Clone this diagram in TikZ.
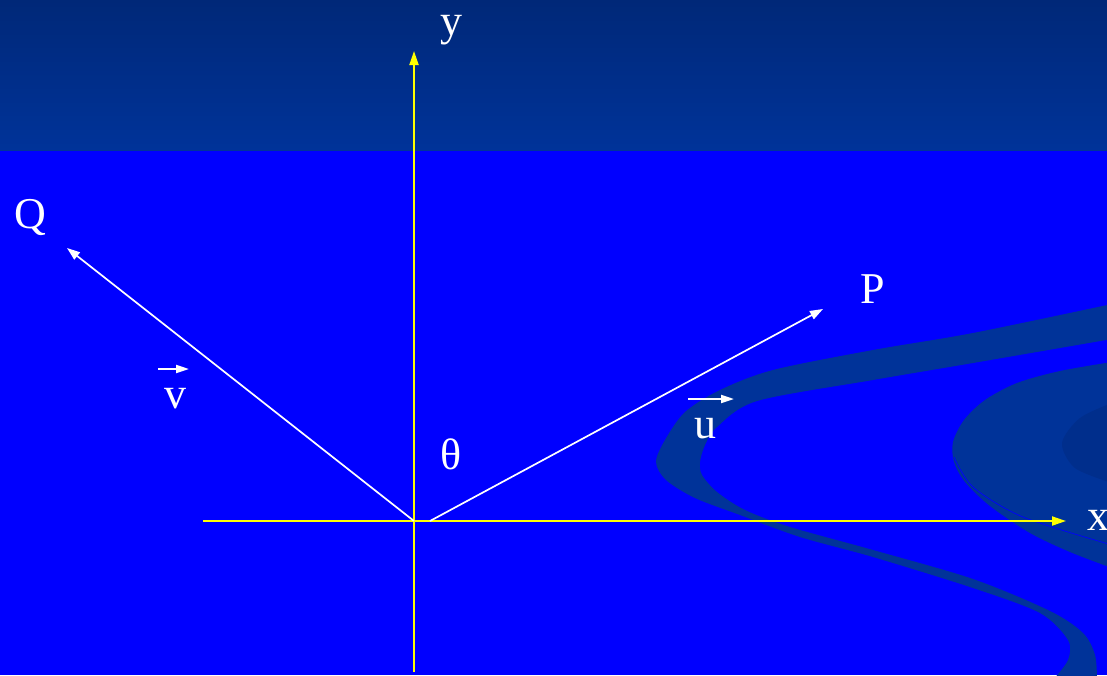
\documentclass[tikz,border=0pt]{standalone}
\usepackage{fontspec}
\setmainfont{Liberation Serif}
\usetikzlibrary{arrows.meta}
\definecolor{bandtop}{RGB}{0,40,120}
\definecolor{bandbot}{RGB}{0,51,153}
\definecolor{ribbon}{RGB}{0,51,153}
\definecolor{ribbondark}{RGB}{0,46,140}
\definecolor{pureblue}{RGB}{0,0,255}
\definecolor{axisyellow}{RGB}{255,255,0}
\tikzset{
  axisline/.style={draw=axisyellow, line width=2pt, -{Triangle[length=14pt,width=9pt]}},
  vecline/.style={draw=white, line width=1.7pt, -{Triangle[length=13pt,width=9pt]}},
  smallvec/.style={draw=white, line width=2pt, -{Triangle[length=13pt,width=8pt]}},
  lbl/.style={text=white, anchor=base, inner sep=0pt, font=\fontsize{44}{50}\selectfont}
}
\begin{document}
\begin{tikzpicture}[x=1pt,y=-1pt]
\useasboundingbox (0,0) rectangle (1107,675);
% background
\fill[pureblue] (0,0) rectangle (1107,675);
\shade[top color=bandtop, bottom color=bandbot] (0,0) rectangle (1107,150);
% ribbons
\begin{scope}
\clip (0,150) rectangle (1107,675);
\fill[ribbon] plot[smooth] coordinates {(1112,304) (973,333) (873,350) (773,370) (720,390) (685,412) (665,440) (656,462) (666,480) (695,498) (740,515) (800,537) (873,557) (973,588) (1040,613) (1068,640) (1068,660) (1053,680)}
  -- plot[smooth] coordinates {(1097,680) (1095,655) (1083,633) (1050,611) (973,579) (873,550) (790,527) (745,510) (717,492) (702,475) (700,462) (705,445) (717,427) (757,401) (873,380) (973,363) (1112,339)} -- cycle;
\fill[ribbon] plot[smooth] coordinates {(1112,362) (1060,371) (1017,383) (985,400) (964,420) (953,442) (954,462) (965,482) (990,506) (1030,533) (1070,552) (1112,568)} -- (1120,568) -- (1120,362) -- cycle;
\fill[ribbondark] plot[smooth] coordinates {(1112,403) (1080,418) (1062,443) (1075,468) (1112,483)} -- cycle;
\draw[pureblue, line width=0.7pt] plot[smooth] coordinates {(954,457) (973,487) (1023,517) (1112,545)};
\end{scope}
% coordinates
\coordinate (O) at (414,521);
\coordinate (ytip) at (414,51);
\coordinate (ybot) at (414,672);
\coordinate (xleft) at (203,521);
\coordinate (xtip) at (1066,521);
\coordinate (Pstart) at (430,521);
\coordinate (Ptip) at (823,309);
\coordinate (Qtip) at (67,248);
\coordinate (vs) at (158,369);
\coordinate (ve) at (189,369);
\coordinate (us) at (688,399);
\coordinate (ue) at (734,399);
% axes
\draw[axisline] (ybot) -- (ytip);
\draw[axisline] (xleft) -- (xtip);
% vectors
\draw[vecline] (O) -- (Qtip);
\draw[vecline] (Pstart) -- (Ptip);
\draw[smallvec] (vs) -- (ve);
\draw[smallvec] (us) -- (ue);
% labels
\node[lbl] (ylab) at (451,35) {y};
\node[lbl] (xlab) at (1098,530) {x};
\node[lbl] (Qlab) at (30,228) {Q};
\node[lbl] (Plab) at (873,303) {P};
\node[lbl] (vlab) at (175,408) {v};
\node[lbl] (ulab) at (705,438) {u};
\node[lbl] (thlab) at (451,469) {θ};
\end{tikzpicture}
\end{document}
